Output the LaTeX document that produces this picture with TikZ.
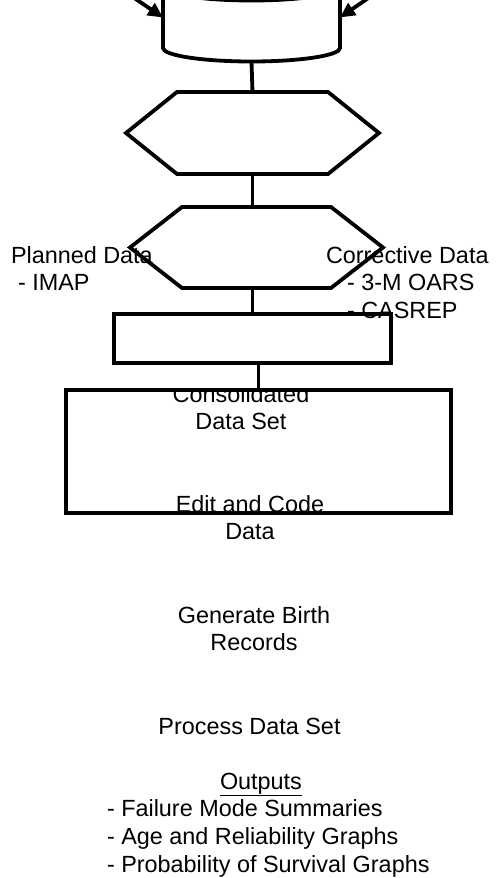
\documentclass[tikz,border=0pt]{standalone}
\usepackage{fontspec}
\setmainfont{Liberation Sans}
\usetikzlibrary{arrows.meta}

\begin{document}
\begin{tikzpicture}[x=1pt,y=-1pt,
  stroke/.style={line width=3.8pt,line join=miter,black},
  frame/.style={stroke,draw,inner sep=0pt,outer sep=0pt},
  hexcore/.style={inner sep=0pt,outer sep=0pt},
  feed/.style={stroke,-{Triangle[length=15pt,width=14pt]}},
  txt/.style={inner sep=0pt,outer sep=0pt,font=\fontsize{23.4}{27.8}\selectfont},
]
\useasboundingbox (0,0) rectangle (498,878);
\clip (0,0) rectangle (498,878);

% ---- labels (anchored on the baseline of their last line) ----
\node[txt,anchor=base west,align=left] (planned) at (11,290.8)
  {Planned Data\\\hspace*{7pt}- IMAP};
\node[txt,anchor=base west,align=left] (corrective) at (326,318.6)
  {Corrective Data\\\hspace*{21pt}- 3-M OARS\\\hspace*{21pt}- CASREP};
\begin{scope}
  \clip (60,390) rectangle (460,560);
  \node[txt,anchor=base,align=center] (consol) at (241,429.8)
    {Consolidated\\Data Set};
\end{scope}
\node[txt,anchor=base,align=center] (edit) at (250,539.8)
  {Edit and Code\\Data};
\node[txt,anchor=base,align=center] (birth) at (254,650.8)
  {Generate Birth\\Records};
\node[txt,anchor=base] (process) at (249.5,734) {Process Data Set};
\node[txt,anchor=base west,align=left] (outputs) at (107,872.4)
  {\hspace*{113pt}\underline{Outputs}\\- Failure Mode Summaries\\- Age and Reliability Graphs\\- Probability of Survival Graphs};

% ---- data store (cylinder) ----
\node[hexcore,minimum width=177,minimum height=61] (store) at (251.5,17.5) {};
\draw[stroke] (store.north west) -- (store.south west)
  arc[start angle=180,end angle=360,x radius=88.5pt,y radius=13.5pt]
  -- (store.north east);
\draw[stroke] (store.north) ellipse[x radius=88.5pt,y radius=13.5pt];
\coordinate (storebase) at ([yshift=-13.5pt]store.south);

% incoming feeds
\coordinate (inL) at (119.8,-11.8);
\coordinate (inR) at (382.6,-11.8);
\draw[feed] (inL) -- (store.west);
\draw[feed] (inR) -- (store.east);

% ---- hexagons ----
\node[hexcore,minimum width=151,minimum height=82] (hexA) at (252.5,133) {};
\draw[stroke] (hexA.north west) -- (hexA.north east) -- ([xshift=51pt]hexA.east)
  -- (hexA.south east) -- (hexA.south west) -- ([xshift=-51pt]hexA.west) -- cycle;

\node[hexcore,minimum width=149,minimum height=81] (hexB) at (256.5,247.5) {};
\draw[stroke] (hexB.north west) -- (hexB.north east) -- ([xshift=52pt]hexB.east)
  -- (hexB.south east) -- (hexB.south west) -- ([xshift=-52pt]hexB.west) -- cycle;

% ---- boxes ----
\node[frame,minimum width=277,minimum height=49] (prep) at (252.5,338.5) {};
\node[frame,minimum width=385,minimum height=123] (main) at (258.5,451.5) {};

% ---- connectors ----
\draw[stroke] (storebase) -- (hexA.north);
\draw[stroke] (hexA.south) -- (hexA.south |- hexB.north);
\draw[stroke] (hexB.south -| prep.north) -- (prep.north);
\draw[stroke] (main.north |- prep.south) -- (main.north);
\end{tikzpicture}
\end{document}
